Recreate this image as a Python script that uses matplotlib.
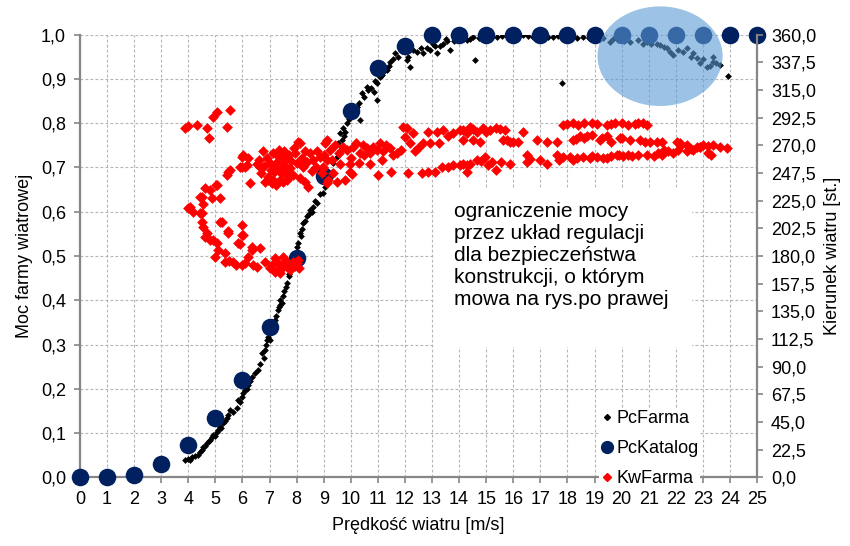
import numpy as np
import matplotlib
matplotlib.use("Agg")
import matplotlib.pyplot as plt
from matplotlib.patches import Ellipse, Rectangle
from matplotlib.ticker import FuncFormatter, MultipleLocator
from matplotlib.lines import Line2D

plt.rcParams['font.family'] = ['Liberation Sans', 'DejaVu Sans']

# PcKatalog - power curve from the catalogue (wind speed, relative power)
kat_v = list(range(0, 26))
kat_p = [0.0, 0.0, 0.005, 0.03, 0.073, 0.135, 0.22, 0.34, 0.495, 0.68, 0.828,
         0.925, 0.975, 1.0, 1.0, 1.0, 1.0, 1.0, 1.0, 1.0, 1.0, 1.0, 1.0, 1.0,
         1.0, 1.0]

farma_v = [3.88, 4.0, 4.06, 4.15, 4.25, 4.35, 4.43, 4.5, 4.55, 4.62, 4.69, 4.75,
           4.8, 4.86, 4.92, 4.98, 5.05, 5.1, 5.17, 5.22, 5.29, 5.35, 5.42, 5.48,
           5.54, 5.65, 5.79, 5.84, 5.9, 5.97, 6.02, 6.09, 6.15, 6.2, 6.28, 6.35,
           6.45, 6.57, 6.65, 6.72, 6.78, 6.83, 6.88, 6.91, 6.96, 7.02, 7.05, 7.1,
           7.13, 7.2, 7.25, 7.31, 7.35, 7.39, 7.46, 7.5, 7.55, 7.6, 7.64, 7.7,
           7.76, 7.8, 7.85, 7.9, 8.0, 8.05, 8.12, 8.2, 8.25, 8.31, 8.4, 8.49,
           8.55, 8.6, 8.68, 8.75, 8.86, 8.97, 8.99, 9.1, 9.23, 9.35, 9.48, 9.54,
           9.6, 9.67, 9.71, 9.8, 9.86, 9.92, 9.97, 10.05, 10.1, 10.23, 10.34,
           10.41, 10.5, 10.64, 10.75, 10.85, 10.97, 10.97, 11.08, 11.15, 11.26,
           11.35, 11.45, 11.55, 11.63, 11.75, 11.9, 12.07, 12.19, 12.3, 12.45,
           12.67, 12.8, 12.93, 13.04, 13.18, 13.3, 13.4, 13.55, 13.66, 13.8,
           13.92, 14.1, 14.29, 14.4, 14.51, 14.6, 14.75, 14.9, 15.03, 15.2,
           15.4, 15.6, 15.8, 16.0, 16.2, 16.36, 16.55, 16.73, 16.9, 17.1, 17.3,
           17.47, 17.65, 17.8, 17.9, 18.1, 18.35, 18.58, 18.8, 19.0, 19.3, 19.57,
           19.7, 19.87, 20.1, 20.31, 20.6, 20.8, 20.94, 21.1, 21.3, 21.42, 21.55,
           21.67, 21.79, 21.9, 22.09, 22.25, 22.42, 22.55, 22.65, 22.78, 22.89,
           23.0, 23.15, 23.25, 23.39, 23.39, 23.5, 23.63, 23.94,
           7.0, 7.4, 7.72, 8.15, 8.45, 9.05, 9.3, 9.75, 10.15, 10.3, 10.6, 10.9,
           11.2, 11.4, 12.1, 12.6, 13.1, 13.5]
farma_p = [0.039, 0.042, 0.039, 0.045, 0.048, 0.05, 0.057, 0.062, 0.068, 0.07,
           0.077, 0.082, 0.084, 0.09, 0.096, 0.094, 0.102, 0.108, 0.114, 0.112,
           0.122, 0.128, 0.133, 0.14, 0.152, 0.148, 0.157, 0.175, 0.17, 0.182,
           0.19, 0.197, 0.2, 0.209, 0.218, 0.227, 0.235, 0.243, 0.257, 0.28,
           0.27, 0.287, 0.3, 0.31, 0.318, 0.326, 0.34, 0.345, 0.34, 0.356,
           0.365, 0.378, 0.385, 0.4, 0.393, 0.41, 0.42, 0.43, 0.44, 0.455,
           0.475, 0.47, 0.49, 0.5, 0.521, 0.53, 0.552, 0.56, 0.575, 0.58, 0.59,
           0.604, 0.6, 0.61, 0.625, 0.619, 0.64, 0.642, 0.68, 0.67, 0.68, 0.71,
           0.724, 0.755, 0.778, 0.762, 0.79, 0.78, 0.8, 0.81, 0.815, 0.82, 0.83,
           0.837, 0.807, 0.868, 0.86, 0.875, 0.88, 0.87, 0.89, 0.852, 0.905,
           0.91, 0.927, 0.92, 0.938, 0.945, 0.958, 0.95, 0.962, 0.943, 0.927,
           0.965, 0.96, 0.958, 0.97, 0.965, 0.98, 0.958, 0.975, 0.98, 0.985,
           0.965, 0.985, 0.988, 0.99, 0.988, 0.99, 0.995, 0.943, 0.993, 0.99,
           0.992, 0.995, 0.995, 0.998, 0.996, 0.998, 0.997, 0.999, 0.997, 0.995,
           0.997, 0.996, 0.995, 0.995, 0.996, 0.891, 0.994, 0.995, 0.992, 0.995,
           0.993, 0.994, 0.992, 0.983, 0.99, 0.988, 0.985, 0.983, 0.988, 0.98,
           0.983, 0.978, 0.98, 0.976, 0.972, 0.969, 0.96, 0.954, 0.965, 0.96,
           0.969, 0.95, 0.958, 0.947, 0.936, 0.945, 0.927, 0.93, 0.95, 0.939,
           0.935, 0.932, 0.907,
           0.31, 0.39, 0.46, 0.545, 0.595, 0.655, 0.69, 0.77, 0.83, 0.845,
           0.882, 0.895, 0.915, 0.93, 0.95, 0.97, 0.975, 0.99]

# KwFarma - wind direction [deg] vs wind speed
kier_v = [3.88, 4.0, 4.32, 4.69, 4.76, 4.91, 5.05, 5.54, 5.43,
          4.0, 4.06, 4.17, 4.43, 4.62, 4.8, 4.54, 4.87, 5.17, 5.02, 4.43, 4.5,
          4.69, 4.91, 5.17, 5.47, 4.5, 4.49, 4.55, 5.23, 5.97, 4.62, 4.8, 5.05,
          5.48, 5.97, 5.84, 5.11, 4.99, 5.35, 5.35, 5.66, 5.97, 6.21, 6.34,
          6.65, 6.52, 6.83, 7.02, 7.2, 7.32, 7.2, 7.39, 7.51, 7.69, 7.88, 7.76,
          7.51, 5.91, 6.02, 6.35, 5.75, 5.5, 6.1, 6.4, 7.1, 7.6, 7.95, 8.05,
          7.3, 8.0, 8.1,
          5.47, 5.54, 5.91, 5.98, 6.2, 6.17, 6.28, 6.02, 5.98, 6.09, 5.43, 5.05,
          6.65, 6.7, 6.89, 6.95, 7.14, 7.26, 7.39, 7.45, 7.52, 7.63, 7.75, 6.95,
          7.14, 7.39, 7.63, 7.08, 8.06, 8.12, 7.94, 8.31, 8.49, 8.37, 8.12,
          8.31, 8.43, 8.74, 8.86, 9.05, 9.11, 8.98, 9.17, 8.92, 6.6, 6.8, 7.0,
          7.05, 7.2, 7.3, 7.45, 7.55, 7.7, 7.8, 7.85, 7.6, 8.0, 8.2, 8.25, 8.6,
          8.7, 8.55, 9.0, 6.75, 7.9, 7.35, 6.85, 7.25, 7.5, 6.55, 7.15, 7.7,
          9.11, 9.23, 9.72, 10.09, 10.34, 10.59, 10.83, 11.08, 11.2, 11.45, 11.7,
          12.06, 12.0, 12.19, 12.37, 12.86, 12.93, 13.24, 13.17, 13.41, 13.6,
          13.78, 14.03, 14.28, 11.93, 12.3, 9.4, 9.55, 9.85, 10.2, 10.45, 10.7,
          10.95, 11.3, 11.55, 11.85, 12.5, 12.65, 9.3, 9.6, 10.0, 10.3, 10.5,
          9.97, 10.71, 11.14, 9.97, 11.02, 11.5, 12.13, 12.62, 12.86, 13.11,
          13.35, 13.6, 13.78, 14.03, 14.28, 8.98, 9.35, 9.11, 9.48, 10.04, 9.79,
          14.16, 14.4, 14.65, 14.89, 15.14, 15.38, 15.69, 16.37, 17.85, 18.21,
          18.4, 18.89, 19.45, 14.5, 15.0, 15.5, 18.0, 18.6, 19.1,
          14.16, 14.52, 14.77, 15.63, 15.88, 16.18, 16.86, 17.23, 17.6, 18.21,
          18.46, 18.71, 18.89, 19.2, 19.45, 15.75, 16.0, 18.3, 18.6,
          14.16, 14.4, 14.28, 14.65, 14.95, 15.2, 15.38, 15.56, 15.88, 16.49,
          16.49, 16.98, 17.23, 17.6, 17.85, 18.09, 18.34, 18.58, 18.83, 19.08,
          19.32, 14.8, 15.05, 16.6, 17.7, 18.2, 18.9,
          19.76, 20.0, 20.25, 20.62, 20.93, 20.5, 19.6, 20.8,
          19.26, 19.94, 20.31, 20.68, 20.86, 21.05, 21.3, 21.48, 22.03, 22.15,
          22.4, 22.77, 23.02, 23.39, 23.63, 23.88, 19.6, 20.0, 22.2, 22.9, 23.2,
          19.45, 19.82, 20.25, 20.93, 21.36, 21.48, 21.73, 22.1, 22.4, 22.65,
          22.89, 23.2, 19.6, 20.05, 20.6, 21.2, 21.9, 22.55, 23.3, 19.9, 20.4,
          21.55]
kier_deg = [284, 286, 286.5, 284, 276, 293, 297, 299, 285,
            219, 220, 216, 228, 235, 234, 222, 227, 227, 238, 215, 208,
            199, 193, 208, 200, 228, 214.7, 203.8, 207.9, 205.2, 195.7, 193, 190.3,
            198.5, 197, 190.3, 184.9, 179.4, 182.2, 175.4, 175.4, 172.7, 179.4, 184.9,
            186.3, 171.3, 175.4, 170, 178.1, 174, 167.2, 165.9, 171.3, 172.7, 175.4, 168.6,
            179.4, 190, 197, 187.5, 173, 176, 174, 172.5, 173, 176, 172, 177,
            169, 174, 170,
            248, 250, 252, 260.5, 259.6, 254, 239, 262, 252.3, 252.3, 246, 237.6,
            252.6, 247.3, 259.5, 244.5, 263.5, 256.7, 250, 260.8, 254, 259.5, 251.3, 242,
            242, 242, 242, 239, 273, 271.7, 263.5, 265, 263.5, 256.7, 243.2,
            240.4, 236.4, 265, 260.8, 271.7, 258, 251.3, 242, 247.3, 258, 253, 256,
            250, 252, 261, 247, 265, 262, 257, 246, 249, 256, 260, 252, 258,
            252, 249, 262, 265, 268, 266, 240, 238, 240, 255, 248, 245,
            274.3, 266, 268.9, 269, 263.5, 267.5, 269, 271.8, 265, 267.5, 263.5,
            284, 277, 271.8, 265, 281, 271.8, 271.8, 281, 282.6, 277.2,
            279.7, 282.6, 279.7, 285, 279.7, 270, 264, 266, 272, 270, 264,
            266, 270, 262, 266, 268, 272, 258, 255, 260, 256, 262,
            255.2, 255.2, 258, 248.4, 245.9, 248.4, 247.3, 247.3, 248.4, 248.4,
            252.7, 252.7, 254.2, 254.2, 254.2, 252.7, 247.3, 239, 240.5, 247, 242,
            282.6, 285, 281, 284, 282.6, 284, 282.6, 281, 286.6, 288,
            286.6, 288, 286.6, 283, 281, 283.5, 287, 288, 287,
            274.3, 274.3, 272.9, 274.3, 272.9, 272.9, 274.3, 272.9, 272.9, 274.3,
            277.2, 277.2, 278.3, 274.3, 277.2, 274, 273, 275, 276,
            255.2, 255.2, 248.4, 258, 260.6, 256.7, 249.8, 256.7, 255.2, 262,
            256.7, 258, 255.2, 262, 260.6, 260.6, 259.6, 260.6, 259.6, 260.6,
            259.6, 257, 254, 259, 258, 258, 261,
            288, 288, 286.6, 288, 286.6, 287, 287, 288,
            275.8, 275.8, 274.3, 274.3, 272.9, 272.9, 272.9, 272.9, 272.9, 271.8,
            270.4, 268.9, 270.4, 270.4, 268.9, 267.5, 273, 276, 270.5, 269, 269.5,
            259.6, 262, 262, 262, 263.5, 262, 265, 266, 265, 266,
            268.9, 263.5, 261, 261, 262, 261, 264, 267, 262, 262, 261.5,
            266]

note = ("ograniczenie mocy\nprzez układ regulacji\ndla bezpieczeństwa\n"
        "konstrukcji, o którym\nmowa na rys.po prawej")

spine_col = '#868686'
grid_col = '#B4B4B4'
navy = '#002060'

fig = plt.figure(figsize=(8.5, 5.46), dpi=100)
ax = fig.add_axes([0.0941, 0.1258, 0.7965, 0.8107])
ax2 = ax.twinx()

ax.set_xlim(0, 25)
ax.set_ylim(0, 1.0)
ax2.set_ylim(0, 360)

comma = FuncFormatter(lambda v, p: f"{v:.1f}".replace('.', ','))
ax.xaxis.set_major_locator(MultipleLocator(1))
ax.yaxis.set_major_locator(MultipleLocator(0.1))
ax.yaxis.set_major_formatter(comma)
ax2.yaxis.set_major_locator(MultipleLocator(22.5))
ax2.yaxis.set_major_formatter(comma)

ax.grid(True, color=grid_col, linestyle=(0, (2.5, 2)), linewidth=0.8)

for a in (ax, ax2):
    a.spines['top'].set_visible(False)
    for s in a.spines.values():
        s.set_color(spine_col)
        s.set_linewidth(1.6)
ax.spines['right'].set_visible(False)
ax2.spines['left'].set_visible(False)
ax2.spines['bottom'].set_visible(False)

ax.tick_params(axis='both', colors=spine_col, labelcolor='black', labelsize=13,
               length=4, width=1.2, pad=6, direction='out')
ax2.tick_params(axis='y', colors=spine_col, labelcolor='black', labelsize=13,
                length=4, width=1.2, pad=6, direction='out')

ax.set_xlabel("Prędkość wiatru [m/s]", fontsize=13, labelpad=6)
ax.set_ylabel("Moc farmy wiatrowej", fontsize=13, labelpad=6)
ax2.set_ylabel("Kierunek wiatru [st.]", fontsize=13, labelpad=6)

# white area behind the note hides the grid
ax.add_patch(Rectangle((13.1, 0.294), 9.5, 0.36, facecolor='white',
                       edgecolor='none', zorder=1.8))

ax.scatter(farma_v, farma_p, marker='D', s=12, color='black', linewidths=0,
           zorder=3)
ax.scatter(kat_v, kat_p, marker='o', s=160, color=navy, linewidths=0,
           zorder=4, clip_on=False)
ax2.scatter(kier_v, kier_deg, marker='D', s=30, color='red', linewidths=0,
            zorder=3)

ax2.add_patch(Ellipse((21.42, 342.5), 4.62, 81, facecolor='#5B9BD5',
                      edgecolor='none', alpha=0.6, zorder=10, clip_on=False))

ax2.text(13.8, 224, note, fontsize=15, ha='left', va='top',
         linespacing=1.2, zorder=6)

handles = [
    Line2D([], [], marker='D', linestyle='none', color='black', markersize=3),
    Line2D([], [], marker='o', linestyle='none', color=navy, markersize=8.5),
    Line2D([], [], marker='D', linestyle='none', color='red', markersize=4.5),
]
leg = ax2.legend(handles, ["PcFarma", "PcKatalog", "KwFarma"], loc='center',
                 bbox_to_anchor=(0.764, 0.178), bbox_transform=fig.transFigure,
                 fontsize=13, frameon=True, fancybox=False, framealpha=1,
                 edgecolor='none', facecolor='white', handlelength=0.8,
                 handletextpad=0.1, labelspacing=0.72, borderpad=0.05)
leg.set_zorder(20)

fig.savefig("out.png", dpi=100)
